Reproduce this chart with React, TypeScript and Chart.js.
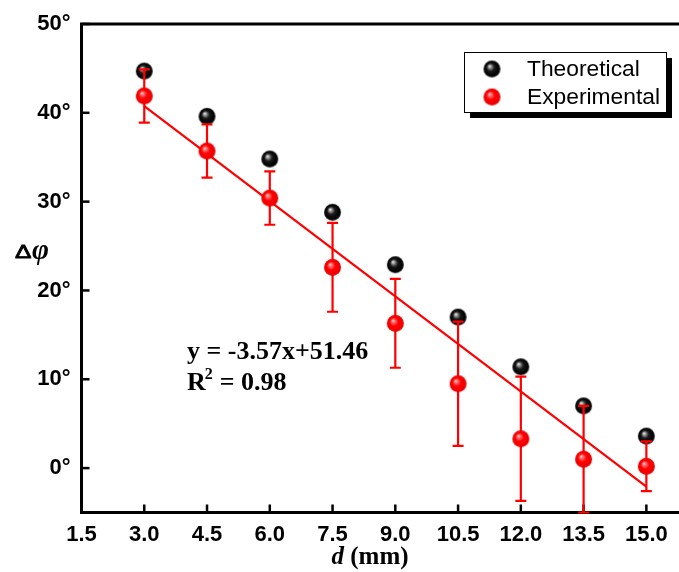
import React, { useEffect, useRef } from "react";
import { Chart, registerables } from "chart.js";

Chart.register(...registerables);

const distances = [3.0, 4.5, 6.0, 7.5, 9.0, 10.5, 12.0, 13.5, 15.0];
const theoretical = [44.7, 39.6, 34.8, 28.8, 22.9, 17.0, 11.4, 7.0, 3.6];
const experimental = [41.9, 35.7, 30.4, 22.6, 16.3, 9.5, 3.3, 1.0, 0.2];
const experimentalErr = [3.0, 3.0, 3.0, 5.0, 5.0, 7.0, 7.0, 6.0, 2.8];
const fitX = [3.0, 15.0];
const fitY = [40.75, -2.09];
const xTicks = [1.5, 3.0, 4.5, 6.0, 7.5, 9.0, 10.5, 12.0, 13.5, 15.0];
const yTicks = [0, 10, 20, 30, 40, 50];
const legendLabels = ["Theoretical", "Experimental"];
const fitEquation = "y = -3.57x+51.46";
const fitR2 = "0.98";

function makeSphere(stops: [number, string][], r: number): HTMLCanvasElement {
  const c = document.createElement("canvas");
  const s = Math.ceil(r * 2 + 2);
  c.width = s;
  c.height = s;
  const ctx = c.getContext("2d")!;
  const cx = s / 2;
  const cy = s / 2;
  const g = ctx.createRadialGradient(cx - r * 0.3, cy - r * 0.35, 0, cx, cy, r);
  stops.forEach(([o, col]) => g.addColorStop(o, col));
  ctx.fillStyle = g;
  ctx.beginPath();
  ctx.arc(cx, cy, r, 0, Math.PI * 2);
  ctx.fill();
  return c;
}

export default function App() {
  const ref = useRef<HTMLCanvasElement | null>(null);

  useEffect(() => {
    const canvas = ref.current;
    if (!canvas) return;

    const blackBall = makeSphere(
      [
        [0, "#ffffff"],
        [0.18, "#9a9a9a"],
        [0.45, "#1a1a1a"],
        [0.85, "#000000"],
        [1, "#2a2a2a"],
      ],
      8.5
    );
    const redBall = makeSphere(
      [
        [0, "#ffe0e0"],
        [0.2, "#ff7070"],
        [0.5, "#ff0000"],
        [0.9, "#ee0000"],
        [1, "#dd0000"],
      ],
      8.5
    );

    const sans = "'Liberation Sans', Arial, sans-serif";
    const serif = "'Liberation Serif', 'Times New Roman', serif";

    const framePlugin = {
      id: "frame",
      beforeDatasetsDraw(chart: any) {
        const { ctx, chartArea } = chart;
        const xs = chart.scales.x;
        const ys = chart.scales.y;
        ctx.save();
        ctx.strokeStyle = "#000";
        ctx.lineWidth = 3;
        ctx.lineCap = "butt";
        ctx.beginPath();
        ctx.moveTo(chartArea.right + 2, chartArea.top);
        ctx.lineTo(chartArea.left, chartArea.top);
        ctx.lineTo(chartArea.left, chartArea.bottom);
        ctx.lineTo(chartArea.right + 2, chartArea.bottom);
        ctx.stroke();
        ctx.lineWidth = 2.5;
        xTicks.forEach((v) => {
          const px = xs.getPixelForValue(v);
          ctx.beginPath();
          ctx.moveTo(px, chartArea.bottom);
          ctx.lineTo(px, chartArea.bottom - 8);
          ctx.stroke();
        });
        yTicks.forEach((v) => {
          const py = ys.getPixelForValue(v);
          ctx.beginPath();
          ctx.moveTo(chartArea.left, py);
          ctx.lineTo(chartArea.left + 8, py);
          ctx.stroke();
        });
        ctx.restore();
      },
      afterDatasetDraw(chart: any, args: any) {
        if (args.index !== 0) return;
        const { ctx } = chart;
        const xs = chart.scales.x;
        const ys = chart.scales.y;
        ctx.save();
        ctx.strokeStyle = "#ff0000";
        ctx.lineWidth = 2.2;
        distances.forEach((d, i) => {
          const px = xs.getPixelForValue(d);
          const top = ys.getPixelForValue(experimental[i] + experimentalErr[i]);
          const bot = ys.getPixelForValue(experimental[i] - experimentalErr[i]);
          ctx.beginPath();
          ctx.moveTo(px, top);
          ctx.lineTo(px, bot);
          ctx.moveTo(px - 5.5, top);
          ctx.lineTo(px + 5.5, top);
          ctx.moveTo(px - 5.5, bot);
          ctx.lineTo(px + 5.5, bot);
          ctx.stroke();
        });
        ctx.restore();
      },
      afterDraw(chart: any) {
        const { ctx } = chart;
        ctx.save();
        // Legend
        const lx = 464;
        const ly = 52;
        const lw = 202;
        const lh = 60;
        ctx.fillStyle = "#000";
        ctx.fillRect(lx + 6, ly + 6, lw, lh);
        ctx.fillStyle = "#fff";
        ctx.fillRect(lx, ly, lw, lh);
        ctx.strokeStyle = "#000";
        ctx.lineWidth = 1;
        ctx.strokeRect(lx + 0.5, ly + 0.5, lw, lh);
        const balls = [blackBall, redBall];
        ctx.font = `22.8px ${sans}`;
        ctx.textBaseline = "middle";
        ctx.textAlign = "left";
        legendLabels.forEach((lab, i) => {
          const cy = ly + 17 + i * 28;
          const b = balls[i];
          ctx.drawImage(b, 492 - b.width / 2, cy - b.height / 2);
          ctx.fillStyle = "#000";
          ctx.fillText(lab, 527, cy + 1);
        });

        // Fit annotation
        ctx.textBaseline = "alphabetic";
        ctx.fillStyle = "#000";
        ctx.font = `bold 26px ${serif}`;
        ctx.fillText(fitEquation, 187, 359);
        ctx.fillText("R", 187, 390);
        const rw = ctx.measureText("R").width;
        ctx.font = `bold 16px ${serif}`;
        ctx.fillText("2", 187 + rw - 1, 379);
        const w2 = ctx.measureText("2").width;
        ctx.font = `bold 26px ${serif}`;
        ctx.fillText("= " + fitR2, 187 + rw - 1 + w2 + 7, 390);

        // X axis title
        ctx.font = `italic bold 25px ${serif}`;
        const dW = ctx.measureText("d").width;
        ctx.font = `bold 25px ${serif}`;
        const mmW = ctx.measureText(" (mm)").width;
        const tx = 370 - (dW + mmW) / 2;
        ctx.font = `italic bold 25px ${serif}`;
        ctx.fillText("d", tx, 564);
        ctx.font = `bold 25px ${serif}`;
        ctx.fillText(" (mm)", tx + dW, 564);

        // Y axis title
        ctx.save();
        ctx.font = `19px ${sans}`;
        ctx.translate(15, 258);
        ctx.scale(1.3, 1);
        ctx.strokeStyle = "#000";
        ctx.lineWidth = 0.8;
        ctx.fillText("\u0394", 0, 0);
        ctx.strokeText("\u0394", 0, 0);
        ctx.restore();
        ctx.font = `italic bold 29px ${serif}`;
        ctx.fillText("\u03C6", 32, 259);
        ctx.restore();
      },
    };

    const chart = new Chart(canvas, {
      type: "scatter",
      data: {
        datasets: [
          {
            label: legendLabels[0],
            data: distances.map((d, i) => ({ x: d, y: theoretical[i] })),
            pointStyle: blackBall as any,
            order: 3,
          },
          {
            type: "line" as any,
            label: "fit",
            data: fitX.map((x, i) => ({ x, y: fitY[i] })),
            borderColor: "#ff0000",
            borderWidth: 2.2,
            pointRadius: 0,
            showLine: true,
            fill: false,
            order: 2,
          } as any,
          {
            label: legendLabels[1],
            data: distances.map((d, i) => ({ x: d, y: experimental[i] })),
            pointStyle: redBall as any,
            order: 1,
          },
        ],
      },
      options: {
        animation: false,
        responsive: false,
        maintainAspectRatio: false,
        layout: { autoPadding: false, padding: { top: 24, left: 0, right: 0, bottom: 0 } },
        plugins: {
          legend: { display: false },
          tooltip: { enabled: false },
        },
        scales: {
          x: {
            type: "linear",
            min: 1.5,
            max: 15.78,
            grid: { display: false, drawTicks: false },
            border: { display: false },
            afterBuildTicks: (s: any) => {
              s.ticks = xTicks.map((v) => ({ value: v }));
            },
            afterFit: (s: any) => {
              s.height = 59.5;
              s.paddingLeft = 0;
              s.paddingRight = 0;
            },
            ticks: {
              autoSkip: false,
              maxRotation: 0,
              padding: 9,
              color: "#000",
              font: { family: sans, size: 22, weight: "bold" },
              callback: (v: any) => Number(v).toFixed(1),
            },
          },
          y: {
            type: "linear",
            min: -5,
            max: 50,
            grid: { display: false, drawTicks: false },
            border: { display: false },
            afterBuildTicks: (s: any) => {
              s.ticks = yTicks.map((v) => ({ value: v }));
            },
            afterFit: (s: any) => {
              s.width = 81.5;
              s.paddingTop = 0;
              s.paddingBottom = 0;
            },
            ticks: {
              padding: 11,
              color: "#000",
              font: { family: sans, size: 22, weight: "bold" },
              callback: (v: any) => `${v}\u00B0`,
            },
          },
        },
      },
      plugins: [framePlugin],
    });

    return () => chart.destroy();
  }, []);

  return (
    <div style={{ position: "fixed", left: 0, top: 0, width: 679, height: 572, background: "#fff" }}>
      <canvas ref={ref} width={679} height={572} style={{ width: 679, height: 572, display: "block" }} />
    </div>
  );
}
